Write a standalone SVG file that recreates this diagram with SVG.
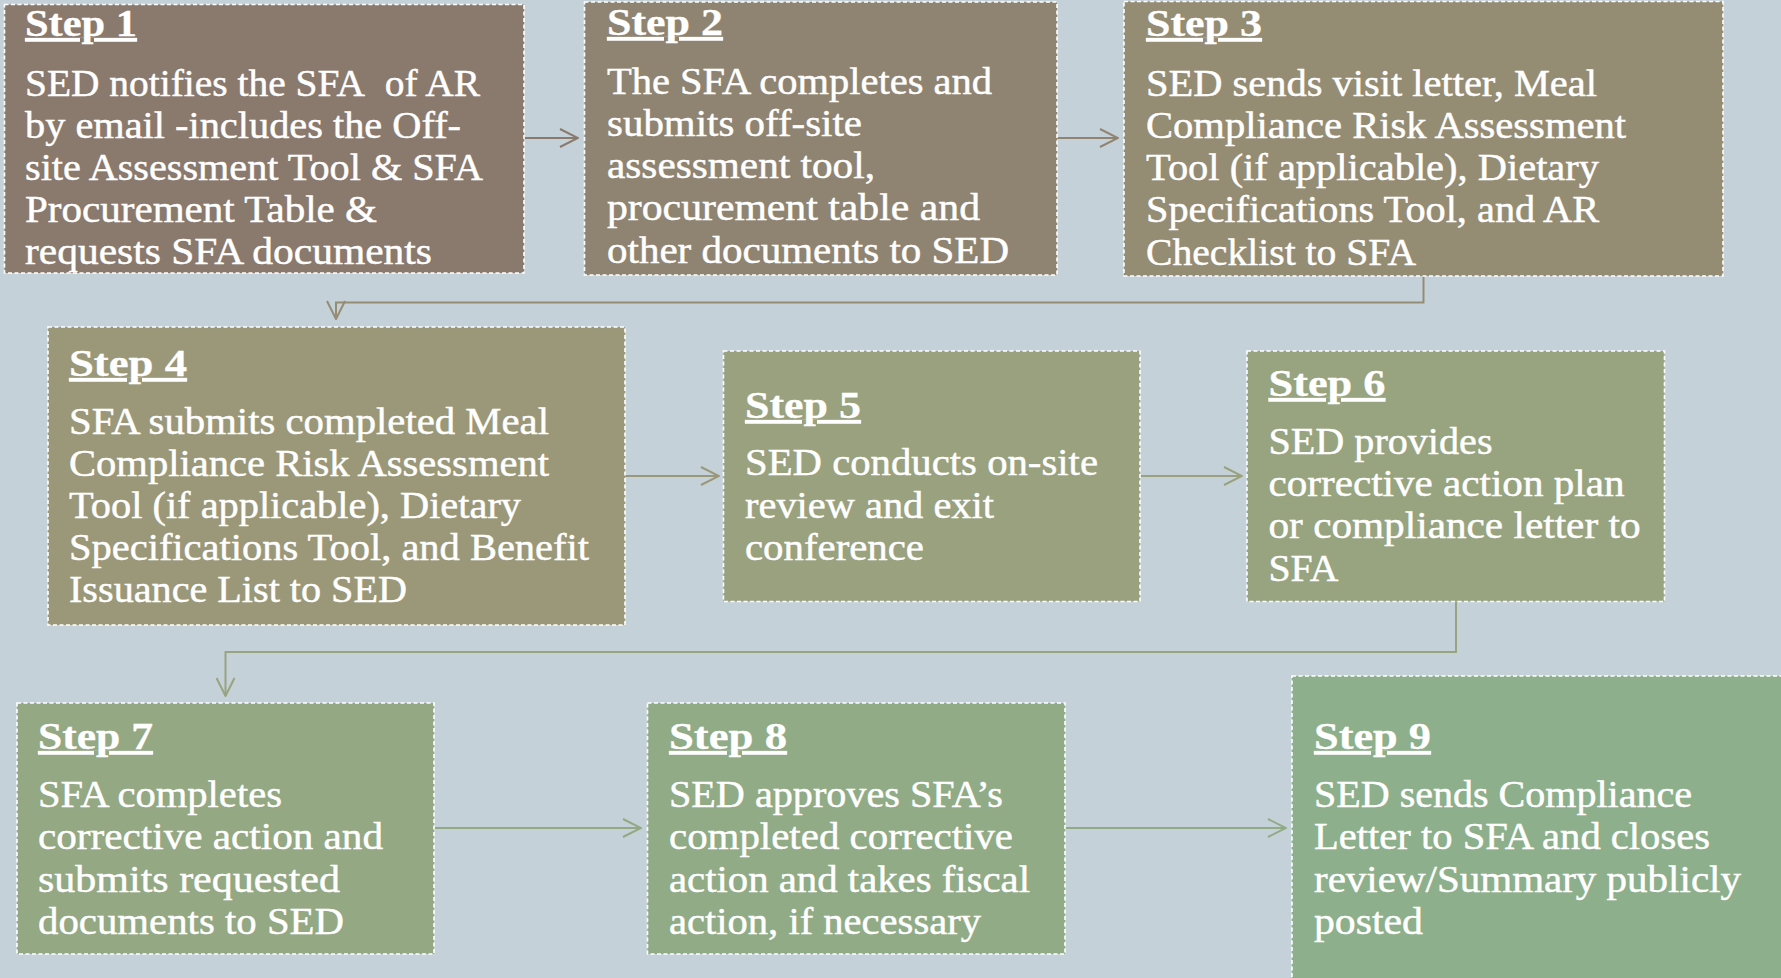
<svg xmlns="http://www.w3.org/2000/svg" width="1781" height="978" viewBox="0 0 1781 978">
  <style>
    .box { stroke: #ffffff; stroke-width: 1.6; stroke-dasharray: 4 2.5; }
    .conn { fill: none; stroke-width: 2; }
    text { fill: #ffffff; stroke: #ffffff; stroke-width: 0.45; font-family: "Liberation Serif", "Times New Roman", serif; font-size: 37px; }
    .title { font-weight: bold; text-decoration: underline; stroke-width: 0.3; }
  </style>
  <defs>
    <!-- open chevron arrowheads, one per connector tint -->
    <marker id="ah1" viewBox="0 0 20 20" refX="19" refY="10" markerWidth="20" markerHeight="20" markerUnits="userSpaceOnUse" orient="auto"><path d="M1,1 L19,10 L1,19" fill="none" stroke="#8a796d" stroke-width="2"/></marker>
    <marker id="ah2" viewBox="0 0 20 20" refX="19" refY="10" markerWidth="20" markerHeight="20" markerUnits="userSpaceOnUse" orient="auto"><path d="M1,1 L19,10 L1,19" fill="none" stroke="#8f8471" stroke-width="2"/></marker>
    <marker id="ah3" viewBox="0 0 20 20" refX="19" refY="10" markerWidth="20" markerHeight="20" markerUnits="userSpaceOnUse" orient="auto"><path d="M1,1 L19,10 L1,19" fill="none" stroke="#958c74" stroke-width="2"/></marker>
    <marker id="ah4" viewBox="0 0 20 20" refX="19" refY="10" markerWidth="20" markerHeight="20" markerUnits="userSpaceOnUse" orient="auto"><path d="M1,1 L19,10 L1,19" fill="none" stroke="#9a9878" stroke-width="2"/></marker>
    <marker id="ah5" viewBox="0 0 20 20" refX="19" refY="10" markerWidth="20" markerHeight="20" markerUnits="userSpaceOnUse" orient="auto"><path d="M1,1 L19,10 L1,19" fill="none" stroke="#99a17e" stroke-width="2"/></marker>
    <marker id="ah6" viewBox="0 0 20 20" refX="19" refY="10" markerWidth="20" markerHeight="20" markerUnits="userSpaceOnUse" orient="auto"><path d="M1,1 L19,10 L1,19" fill="none" stroke="#97a47f" stroke-width="2"/></marker>
    <marker id="ah7" viewBox="0 0 20 20" refX="19" refY="10" markerWidth="20" markerHeight="20" markerUnits="userSpaceOnUse" orient="auto"><path d="M1,1 L19,10 L1,19" fill="none" stroke="#93a883" stroke-width="2"/></marker>
    <marker id="ah8" viewBox="0 0 20 20" refX="19" refY="10" markerWidth="20" markerHeight="20" markerUnits="userSpaceOnUse" orient="auto"><path d="M1,1 L19,10 L1,19" fill="none" stroke="#90ab86" stroke-width="2"/></marker>
  </defs>

  <rect width="1781" height="978" fill="#c5d1d8"/>

  <g id="connectors">
    <path class="conn" stroke="#8a796d" d="M524,138 H578" marker-end="url(#ah1)"/>
    <path class="conn" stroke="#8f8471" d="M1057,138 H1118" marker-end="url(#ah2)"/>
    <path class="conn" stroke="#958c74" d="M1423.5,276 V302.5 H336 V319" marker-end="url(#ah3)"/>
    <path class="conn" stroke="#9a9878" d="M625,476 H719" marker-end="url(#ah4)"/>
    <path class="conn" stroke="#99a17e" d="M1140,476 H1242" marker-end="url(#ah5)"/>
    <path class="conn" stroke="#97a47f" d="M1456,601.5 V652 H225.5 V696" marker-end="url(#ah6)"/>
    <path class="conn" stroke="#93a883" d="M434,828 H641" marker-end="url(#ah7)"/>
    <path class="conn" stroke="#90ab86" d="M1065,828 H1286" marker-end="url(#ah8)"/>
  </g>

  <g id="step1">
    <rect class="box" x="4.5" y="4.5" width="519.5" height="268.5" fill="#8a796d"/>
    <text class="title" x="25" y="36" textLength="112" lengthAdjust="spacingAndGlyphs">Step 1</text>
    <text x="25" y="95.5" textLength="455" lengthAdjust="spacingAndGlyphs">SED notifies the SFA&#160; of AR</text>
    <text x="25" y="137.5" textLength="436" lengthAdjust="spacingAndGlyphs">by email -includes the Off-</text>
    <text x="25" y="179.5" textLength="458" lengthAdjust="spacingAndGlyphs">site Assessment Tool &amp; SFA</text>
    <text x="25" y="221.5" textLength="352" lengthAdjust="spacingAndGlyphs">Procurement Table &amp;</text>
    <text x="25" y="263.5" textLength="407" lengthAdjust="spacingAndGlyphs">requests SFA documents</text>
  </g>

  <g id="step2">
    <rect class="box" x="584.5" y="2" width="472.5" height="273" fill="#8f8471"/>
    <text class="title" x="607" y="35" textLength="116" lengthAdjust="spacingAndGlyphs">Step 2</text>
    <text x="607" y="93.5" textLength="385" lengthAdjust="spacingAndGlyphs">The SFA completes and</text>
    <text x="607" y="135.8" textLength="255" lengthAdjust="spacingAndGlyphs">submits off-site</text>
    <text x="607" y="178.1" textLength="268" lengthAdjust="spacingAndGlyphs">assessment tool,</text>
    <text x="607" y="220.4" textLength="373" lengthAdjust="spacingAndGlyphs">procurement table and</text>
    <text x="607" y="262.7" textLength="402" lengthAdjust="spacingAndGlyphs">other documents to SED</text>
  </g>

  <g id="step3">
    <rect class="box" x="1124" y="1.5" width="599" height="274.5" fill="#958c74"/>
    <text class="title" x="1146" y="36" textLength="116" lengthAdjust="spacingAndGlyphs">Step 3</text>
    <text x="1146" y="95.5" textLength="451" lengthAdjust="spacingAndGlyphs">SED sends visit letter, Meal</text>
    <text x="1146" y="137.8" textLength="480" lengthAdjust="spacingAndGlyphs">Compliance Risk Assessment</text>
    <text x="1146" y="180.1" textLength="453" lengthAdjust="spacingAndGlyphs">Tool (if applicable), Dietary</text>
    <text x="1146" y="222.4" textLength="453" lengthAdjust="spacingAndGlyphs">Specifications Tool, and AR</text>
    <text x="1146" y="264.7" textLength="270" lengthAdjust="spacingAndGlyphs">Checklist to SFA</text>
  </g>

  <g id="step4">
    <rect class="box" x="48" y="327" width="577" height="298" fill="#9a9878"/>
    <text class="title" x="69" y="376" textLength="118" lengthAdjust="spacingAndGlyphs">Step 4</text>
    <text x="69" y="433.5" textLength="480" lengthAdjust="spacingAndGlyphs">SFA submits completed Meal</text>
    <text x="69" y="475.7" textLength="480" lengthAdjust="spacingAndGlyphs">Compliance Risk Assessment</text>
    <text x="69" y="517.9" textLength="452" lengthAdjust="spacingAndGlyphs">Tool (if applicable), Dietary</text>
    <text x="69" y="560.1" textLength="520" lengthAdjust="spacingAndGlyphs">Specifications Tool, and Benefit</text>
    <text x="69" y="602.3" textLength="338" lengthAdjust="spacingAndGlyphs">Issuance List to SED</text>
  </g>

  <g id="step5">
    <rect class="box" x="723.5" y="351" width="416.5" height="250.5" fill="#99a17e"/>
    <text class="title" x="745" y="418" textLength="116" lengthAdjust="spacingAndGlyphs">Step 5</text>
    <text x="745" y="475" textLength="353" lengthAdjust="spacingAndGlyphs">SED conducts on-site</text>
    <text x="745" y="517.5" textLength="249" lengthAdjust="spacingAndGlyphs">review and exit</text>
    <text x="745" y="560" textLength="179" lengthAdjust="spacingAndGlyphs">conference</text>
  </g>

  <g id="step6">
    <rect class="box" x="1247" y="351" width="417.5" height="250.5" fill="#97a47f"/>
    <text class="title" x="1268.5" y="396" textLength="117" lengthAdjust="spacingAndGlyphs">Step 6</text>
    <text x="1268.5" y="454" textLength="224" lengthAdjust="spacingAndGlyphs">SED provides</text>
    <text x="1268.5" y="496.2" textLength="356" lengthAdjust="spacingAndGlyphs">corrective action plan</text>
    <text x="1268.5" y="538.4" textLength="372" lengthAdjust="spacingAndGlyphs">or compliance letter to</text>
    <text x="1268.5" y="580.6" textLength="70" lengthAdjust="spacingAndGlyphs">SFA</text>
  </g>

  <g id="step7">
    <rect class="box" x="17" y="703" width="417" height="251" fill="#93a883"/>
    <text class="title" x="38" y="749" textLength="115" lengthAdjust="spacingAndGlyphs">Step 7</text>
    <text x="38" y="806.5" textLength="244" lengthAdjust="spacingAndGlyphs">SFA completes</text>
    <text x="38" y="849" textLength="345" lengthAdjust="spacingAndGlyphs">corrective action and</text>
    <text x="38" y="891.5" textLength="302" lengthAdjust="spacingAndGlyphs">submits requested</text>
    <text x="38" y="934" textLength="306" lengthAdjust="spacingAndGlyphs">documents to SED</text>
  </g>

  <g id="step8">
    <rect class="box" x="647.5" y="703" width="417.5" height="251" fill="#90ab86"/>
    <text class="title" x="669" y="749" textLength="118" lengthAdjust="spacingAndGlyphs">Step 8</text>
    <text x="669" y="806.5" textLength="334" lengthAdjust="spacingAndGlyphs">SED approves SFA’s</text>
    <text x="669" y="849" textLength="344" lengthAdjust="spacingAndGlyphs">completed corrective</text>
    <text x="669" y="891.5" textLength="361" lengthAdjust="spacingAndGlyphs">action and takes fiscal</text>
    <text x="669" y="934" textLength="312" lengthAdjust="spacingAndGlyphs">action, if necessary</text>
  </g>

  <g id="step9">
    <rect class="box" x="1292" y="676" width="500" height="320" fill="#8daf8b"/>
    <text class="title" x="1314" y="749" textLength="117" lengthAdjust="spacingAndGlyphs">Step 9</text>
    <text x="1314" y="806.5" textLength="378" lengthAdjust="spacingAndGlyphs">SED sends Compliance</text>
    <text x="1314" y="849" textLength="396" lengthAdjust="spacingAndGlyphs">Letter to SFA and closes</text>
    <text x="1314" y="891.5" textLength="427" lengthAdjust="spacingAndGlyphs">review/Summary publicly</text>
    <text x="1314" y="934" textLength="109" lengthAdjust="spacingAndGlyphs">posted</text>
  </g>
</svg>
